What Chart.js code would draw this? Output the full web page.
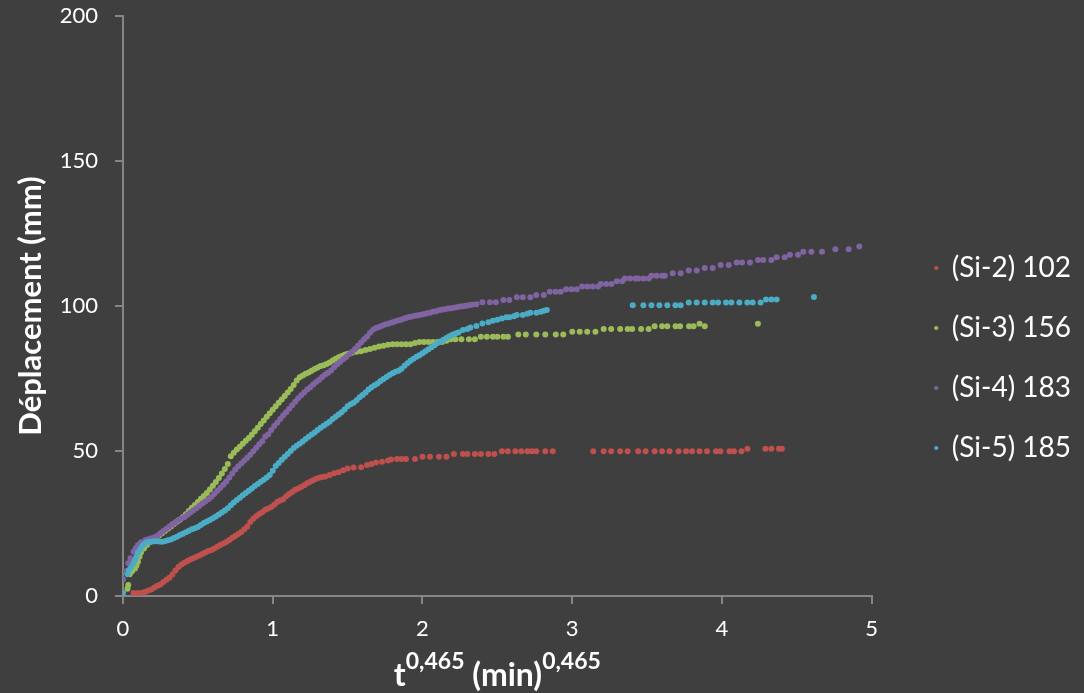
<!DOCTYPE html>
<html>
<head>
<meta charset="utf-8">
<script src="https://cdn.jsdelivr.net/npm/chart.js@4.4.1/dist/chart.umd.min.js"></script>
<style>
  html, body { margin: 0; padding: 0; background: #3f3f3f; }
  canvas { display: block; }
</style>
</head>
<body>
<canvas id="dispChart" width="1084" height="693"></canvas>
<script>
// Series names and colours (legend order)
const seriesNames = ['(Si-2) 102', '(Si-3) 156', '(Si-4) 183', '(Si-5) 185'];
const seriesColors = ['#c0504d', '#9bbb59', '#8064a2', '#4bacc6'];

// x = t^0.465, y = déplacement (mm)
const si2 = [[0.07,1.0],[0.10,1.0],[0.13,1.1],[0.15,1.5],[0.17,1.9],[0.19,2.2],[0.21,2.9],[0.23,3.5],[0.25,4.0],[0.27,4.8],[0.29,5.6],[0.31,6.3],[0.33,7.4],[0.35,8.8],[0.37,10.0],[0.39,10.9],[0.41,11.5],[0.43,12.1],[0.45,12.6],[0.47,13.0],[0.49,13.5],[0.51,14.0],[0.53,14.5],[0.55,15.0],[0.57,15.5],[0.59,15.9],[0.61,16.4],[0.63,17.0],[0.65,17.6],[0.67,18.1],[0.69,18.6],[0.71,19.3],[0.73,20.1],[0.75,20.7],[0.77,21.4],[0.79,22.1],[0.81,23.0],[0.83,24.0],[0.85,25.5],[0.87,26.6],[0.89,27.5],[0.91,28.3],[0.93,28.9],[0.95,29.7],[0.97,30.2],[0.99,30.7],[1.01,31.5],[1.03,32.4],[1.05,32.9],[1.07,33.4],[1.09,34.4],[1.11,35.2],[1.13,35.9],[1.15,36.6],[1.17,37.1],[1.19,37.6],[1.21,38.2],[1.23,38.9],[1.25,39.4],[1.27,39.9],[1.29,40.4],[1.31,40.8],[1.33,41.0],[1.35,41.2],[1.38,41.7],[1.41,42.3],[1.44,42.7],[1.47,43.4],[1.50,44.0],[1.54,44.3],[1.59,44.4],[1.63,45.2],[1.66,45.5],[1.69,46.0],[1.73,46.3],[1.77,46.7],[1.79,47.1],[1.83,47.2],[1.86,47.2],[1.89,47.2],[1.95,47.2],[2.00,48.0],[2.05,48.0],[2.11,48.0],[2.16,48.0],[2.21,49.0],[2.27,49.0],[2.30,49.0],[2.35,49.0],[2.39,49.0],[2.44,49.0],[2.48,49.0],[2.53,49.9],[2.57,49.9],[2.62,49.9],[2.66,49.9],[2.70,49.9],[2.73,49.9],[2.76,49.9],[2.82,49.9],[2.87,49.9],[3.14,49.9],[3.21,49.9],[3.26,49.9],[3.32,49.9],[3.37,49.9],[3.44,49.9],[3.49,49.9],[3.55,49.9],[3.60,49.9],[3.65,49.9],[3.71,49.9],[3.76,49.9],[3.80,49.9],[3.85,49.9],[3.90,49.9],[3.96,49.9],[3.99,49.9],[4.05,49.9],[4.08,49.9],[4.13,49.9],[4.17,50.8],[4.29,50.8],[4.33,50.8],[4.38,50.8],[4.40,50.8]];

const si3 = [[0.03,2.5],[0.035,3.8],[0.045,7.5],[0.06,8.5],[0.08,9.5],[0.09,10.5],[0.10,11.8],[0.11,13.5],[0.12,15.0],[0.14,16.4],[0.16,17.6],[0.18,18.6],[0.20,19.4],[0.22,20.1],[0.24,20.9],[0.26,21.6],[0.28,22.4],[0.30,23.2],[0.32,24.0],[0.34,24.8],[0.36,25.6],[0.38,26.3],[0.40,27.2],[0.42,28.2],[0.44,29.3],[0.46,30.4],[0.48,31.4],[0.50,32.4],[0.52,33.5],[0.54,34.5],[0.56,35.5],[0.58,36.7],[0.60,38.0],[0.62,39.3],[0.64,40.7],[0.66,42.2],[0.68,43.8],[0.70,45.5],[0.72,48.2],[0.74,49.4],[0.76,50.5],[0.78,51.5],[0.80,52.5],[0.82,53.5],[0.84,54.5],[0.86,55.6],[0.88,56.8],[0.90,58.0],[0.92,59.3],[0.94,60.5],[0.96,61.8],[0.98,63.0],[1.00,64.2],[1.02,65.4],[1.04,66.6],[1.06,67.8],[1.08,69.0],[1.10,70.2],[1.12,71.4],[1.14,72.8],[1.16,74.3],[1.18,75.4],[1.20,76.0],[1.22,76.6],[1.24,77.1],[1.26,77.7],[1.28,78.3],[1.30,78.8],[1.32,79.3],[1.34,79.6],[1.36,80.0],[1.38,80.5],[1.40,81.2],[1.42,81.8],[1.44,82.3],[1.46,82.8],[1.48,83.2],[1.50,83.5],[1.53,83.9],[1.56,84.2],[1.59,84.4],[1.62,84.8],[1.65,85.2],[1.68,85.6],[1.71,86.0],[1.74,86.3],[1.77,86.6],[1.80,86.8],[1.83,86.8],[1.86,86.8],[1.89,86.8],[1.92,86.8],[1.95,87.2],[1.98,87.6],[2.01,87.6],[2.04,87.6],[2.07,87.6],[2.10,87.6],[2.13,87.6],[2.16,88.0],[2.19,88.5],[2.22,88.5],[2.26,88.5],[2.31,88.5],[2.35,88.5],[2.39,89.4],[2.43,89.4],[2.47,89.4],[2.50,89.4],[2.54,89.4],[2.57,89.4],[2.64,90.2],[2.69,90.2],[2.76,90.2],[2.82,90.2],[2.89,90.2],[2.94,90.2],[3.00,91.1],[3.05,91.1],[3.10,91.1],[3.155,91.1],[3.21,92.1],[3.26,92.1],[3.32,92.1],[3.37,92.1],[3.40,92.1],[3.46,92.1],[3.51,92.1],[3.55,93.0],[3.60,93.0],[3.635,93.0],[3.69,93.0],[3.72,93.0],[3.78,93.0],[3.81,93.0],[3.85,93.9],[3.885,93.0],[4.24,93.9]];

const si4 = [[0.0,5.7],[0.02,8.5],[0.035,11.3],[0.05,13.0],[0.07,15.3],[0.085,16.5],[0.10,17.6],[0.12,18.5],[0.15,19.3],[0.17,19.6],[0.19,19.9],[0.21,20.3],[0.23,20.8],[0.25,21.6],[0.27,22.4],[0.29,23.2],[0.31,24.0],[0.33,24.7],[0.35,25.4],[0.37,26.2],[0.39,26.7],[0.41,27.2],[0.43,28.0],[0.45,28.8],[0.47,29.6],[0.49,30.3],[0.51,31.1],[0.53,31.9],[0.55,32.6],[0.57,33.4],[0.59,34.1],[0.61,35.2],[0.63,36.3],[0.65,37.3],[0.67,38.4],[0.69,39.5],[0.71,40.9],[0.73,42.2],[0.75,43.6],[0.77,44.7],[0.79,45.7],[0.81,46.7],[0.83,47.7],[0.85,48.7],[0.87,49.9],[0.89,51.1],[0.91,52.3],[0.93,53.4],[0.95,55.0],[0.97,55.8],[0.99,57.2],[1.01,58.6],[1.03,59.7],[1.05,61.0],[1.07,62.2],[1.09,63.4],[1.11,64.6],[1.13,65.8],[1.15,67.0],[1.17,68.2],[1.19,69.2],[1.21,70.2],[1.23,71.2],[1.25,72.0],[1.27,72.9],[1.29,73.8],[1.31,74.6],[1.33,75.5],[1.35,76.4],[1.37,77.0],[1.39,77.8],[1.41,78.9],[1.43,79.9],[1.45,80.8],[1.47,81.6],[1.49,82.4],[1.51,83.4],[1.53,84.2],[1.55,85.2],[1.57,86.3],[1.59,87.4],[1.61,88.5],[1.63,89.5],[1.65,90.8],[1.67,91.8],[1.69,92.4],[1.71,92.8],[1.73,93.2],[1.75,93.6],[1.77,93.9],[1.79,94.2],[1.81,94.6],[1.83,94.9],[1.85,95.2],[1.87,95.5],[1.89,95.9],[1.91,96.2],[1.93,96.4],[1.95,96.6],[1.97,96.8],[1.99,97.0],[2.01,97.2],[2.03,97.5],[2.05,97.7],[2.07,98.0],[2.09,98.2],[2.11,98.5],[2.13,98.7],[2.15,98.9],[2.17,99.1],[2.19,99.2],[2.21,99.4],[2.23,99.6],[2.25,99.8],[2.27,99.9],[2.29,100.1],[2.31,100.3],[2.33,100.4],[2.36,100.6],[2.40,101.3],[2.45,101.3],[2.49,101.3],[2.54,102.1],[2.58,102.1],[2.63,103.0],[2.67,103.0],[2.72,103.0],[2.76,103.8],[2.81,103.8],[2.85,104.9],[2.888,104.9],[2.923,104.9],[2.959,105.8],[2.995,105.8],[3.03,105.8],[3.066,106.7],[3.101,106.7],[3.137,106.7],[3.173,106.7],[3.19,107.6],[3.226,107.6],[3.262,107.6],[3.297,108.5],[3.333,108.5],[3.351,109.5],[3.386,109.5],[3.422,109.5],[3.44,109.5],[3.475,109.5],[3.511,109.5],[3.529,110.4],[3.564,110.4],[3.60,110.4],[3.618,110.4],[3.671,111.3],[3.724,111.3],[3.778,112.2],[3.831,112.2],[3.885,113.1],[3.938,113.1],[3.991,114.1],[4.045,114.1],[4.098,115.0],[4.134,115.0],[4.187,115.0],[4.241,115.9],[4.276,115.9],[4.33,115.9],[4.365,116.8],[4.419,116.8],[4.454,117.7],[4.508,117.7],[4.543,118.7],[4.597,118.7],[4.668,118.7],[4.757,119.6],[4.846,119.6],[4.917,120.5]];

const si5 = [[0.0,1.1],[0.03,7.5],[0.04,9.0],[0.055,10.0],[0.07,11.3],[0.08,12.4],[0.09,13.6],[0.10,15.0],[0.115,16.2],[0.13,17.3],[0.145,18.0],[0.16,18.5],[0.18,18.7],[0.20,18.8],[0.22,18.9],[0.24,18.8],[0.26,18.7],[0.28,18.9],[0.30,19.2],[0.32,19.5],[0.34,20.0],[0.36,20.4],[0.38,21.0],[0.40,21.5],[0.42,22.0],[0.44,22.5],[0.46,23.0],[0.48,23.4],[0.50,23.8],[0.52,24.5],[0.54,25.2],[0.56,25.7],[0.58,26.2],[0.60,26.8],[0.62,27.4],[0.64,28.1],[0.66,28.8],[0.68,29.5],[0.70,30.3],[0.72,31.3],[0.74,32.2],[0.76,33.1],[0.78,33.9],[0.80,34.7],[0.82,35.5],[0.84,36.3],[0.86,37.1],[0.88,37.9],[0.90,38.6],[0.92,39.4],[0.94,40.1],[0.96,40.9],[0.98,41.7],[1.00,43.2],[1.02,44.8],[1.04,45.9],[1.06,47.0],[1.08,48.0],[1.10,49.0],[1.12,50.0],[1.14,51.0],[1.16,51.8],[1.18,52.5],[1.20,53.3],[1.22,54.1],[1.24,54.9],[1.26,55.7],[1.28,56.4],[1.30,57.2],[1.32,58.0],[1.34,58.7],[1.36,59.4],[1.38,60.1],[1.40,61.0],[1.42,61.8],[1.44,62.6],[1.46,63.4],[1.48,64.3],[1.50,65.4],[1.52,66.1],[1.54,66.6],[1.56,67.5],[1.58,68.5],[1.60,69.3],[1.62,70.2],[1.64,71.2],[1.66,72.0],[1.68,72.7],[1.70,73.3],[1.72,74.1],[1.74,74.8],[1.76,75.5],[1.78,76.2],[1.80,76.8],[1.82,77.3],[1.84,77.7],[1.86,78.4],[1.88,79.4],[1.90,80.3],[1.92,81.1],[1.94,81.8],[1.96,82.5],[1.98,83.0],[2.00,83.7],[2.02,84.4],[2.04,85.1],[2.06,85.8],[2.08,86.5],[2.10,87.2],[2.12,87.8],[2.14,88.4],[2.16,89.0],[2.18,89.6],[2.20,90.1],[2.22,90.5],[2.24,90.9],[2.27,91.7],[2.30,92.1],[2.32,92.6],[2.36,93.1],[2.40,94.0],[2.44,94.4],[2.47,94.9],[2.50,95.3],[2.53,95.7],[2.56,96.1],[2.58,96.1],[2.61,96.5],[2.63,96.9],[2.67,96.9],[2.70,97.3],[2.72,97.7],[2.76,97.7],[2.79,98.0],[2.81,98.4],[2.83,98.6],[3.404,100.3],[3.475,100.3],[3.529,100.3],[3.582,100.3],[3.635,100.3],[3.689,100.3],[3.724,100.3],[3.778,101.2],[3.831,101.2],[3.885,101.2],[3.938,101.2],[3.974,101.2],[4.027,101.2],[4.063,101.2],[4.116,101.2],[4.169,101.2],[4.205,101.2],[4.258,101.2],[4.294,102.2],[4.33,102.2],[4.365,102.2],[4.614,103.1]];

const seriesData = [si2, si3, si4, si5];

// Axis ranges and tick steps
const xMin = 0, xMax = 5, xStep = 1;
const yMin = 0, yMax = 200, yStep = 50;

const axisColor = '#868686';
const textColor = '#ffffff';

// x axis title with superscripts, drawn as canvas text
const xTitlePlugin = {
  id: 'xTitle',
  afterDraw(chart) {
    const ctx = chart.ctx;
    const area = chart.chartArea;
    const big = 'bold 32px Lato';
    const small = 'bold 23px Lato';
    const parts = [['t', big, 0], ['0,465', small, -17], [' (min)', big, 0], ['0,465', small, -17]];
    ctx.save();
    let total = 0;
    parts.forEach(p => { ctx.font = p[1]; total += ctx.measureText(p[0]).width; });
    let x = (area.left + area.right) / 2 - total / 2;
    const base = 686;
    ctx.fillStyle = textColor;
    ctx.textBaseline = 'alphabetic';
    ctx.textAlign = 'left';
    parts.forEach(p => {
      ctx.font = p[1];
      ctx.fillText(p[0], x, base + p[2]);
      x += ctx.measureText(p[0]).width;
    });
    ctx.restore();
  }
};

const ctx = document.getElementById('dispChart').getContext('2d');
new Chart(ctx, {
  type: 'scatter',
  data: {
    datasets: seriesNames.map((name, i) => ({
      label: name,
      data: seriesData[i].map(p => ({ x: p[0], y: p[1] })),
      backgroundColor: seriesColors[i],
      borderColor: seriesColors[i],
      borderWidth: 0,
      pointRadius: 3,
      pointHoverRadius: 3,
      order: seriesNames.length - i
    }))
  },
  options: {
    responsive: false,
    animation: false,
    events: [],
    layout: { padding: { top: 16, right: 3, bottom: -7, left: 0 } },
    plugins: {
      tooltip: { enabled: false },
      legend: {
        position: 'right',
        labels: {
          usePointStyle: true,
          boxWidth: 3,
          boxHeight: 3,
          padding: 32,
          color: textColor,
          font: { family: 'Lato', size: 28 },
          sort: (a, b) => a.datasetIndex - b.datasetIndex
        }
      }
    },
    scales: {
      x: {
        type: 'linear',
        min: xMin,
        max: xMax,
        afterFit: s => { s.height = 104; s.paddingLeft = 0; s.paddingRight = 0; },
        grid: { drawOnChartArea: false, drawTicks: true, tickLength: 8, color: axisColor, lineWidth: 2 },
        border: { color: axisColor, width: 2 },
        ticks: { stepSize: xStep, color: textColor, padding: 12, font: { family: 'Lato', size: 22 } }
      },
      y: {
        type: 'linear',
        min: yMin,
        max: yMax,
        afterFit: s => { s.width = 123; s.paddingTop = 0; s.paddingBottom = 0; },
        grid: { drawOnChartArea: false, drawTicks: true, tickLength: 8, color: axisColor, lineWidth: 2 },
        border: { color: axisColor, width: 2 },
        ticks: { stepSize: yStep, color: textColor, padding: 17, font: { family: 'Lato', size: 22 } },
        title: {
          display: true,
          text: 'Déplacement (mm)',
          color: textColor,
          font: { family: 'Lato', size: 31, weight: 'bold' },
          padding: { top: 12, bottom: 0 }
        }
      },
      gap: {
        type: 'linear',
        position: 'right',
        display: true,
        afterFit: s => { s.width = 31; s.paddingTop = 0; s.paddingBottom = 0; },
        grid: { display: false },
        border: { display: false },
        ticks: { display: false }
      }
    }
  },
  plugins: [xTitlePlugin]
});
</script>
</body>
</html>
